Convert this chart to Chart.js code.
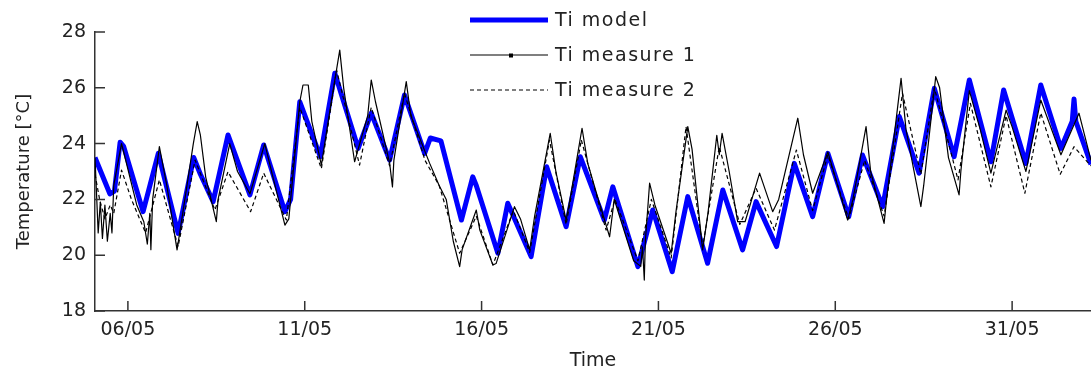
<!DOCTYPE html>
<html>
<head>
<meta charset="utf-8">
<script src="https://cdn.jsdelivr.net/npm/chart.js@4/dist/chart.umd.min.js"></script>
<style>
  body { margin: 0; background: #fff; }
  #wrap { width: 1091px; height: 375px; position: relative; }
</style>
</head>
<body>
<div id="wrap"><canvas id="tempChart"></canvas></div>
<script>
// x values are days counted from 1 May (32 = 01/06)
const modelDays = [5.07, 5.49, 5.62, 5.78, 5.88, 6.43, 6.86, 7.42, 7.86, 8.05, 8.41, 8.83, 9.45, 9.84, 10.44, 10.6,
  10.86, 11.44, 11.85, 12.51, 12.88, 13.4, 13.82, 14.39, 14.55, 14.85, 15.43, 15.75, 15.85, 16.46, 16.74, 17.4,
  17.84, 18.39, 18.79, 19.47, 19.71, 20.42, 20.84, 21.39, 21.83, 22.39, 22.82, 23.38, 23.76, 24.34, 24.84, 25.36,
  25.79, 26.38, 26.77, 27.34, 27.81, 28.37, 28.8, 29.36, 29.79, 30.4, 30.76, 31.39, 31.81, 32.38, 32.7, 32.75,
  32.8, 33.23];
const modelTemps = [23.5, 22.2, 22.3, 24.05, 23.9, 21.56, 23.65, 20.78, 23.5, 22.9, 21.92, 24.31, 22.16, 23.95, 21.56, 22.0,
  25.5, 23.53, 26.52, 23.83, 25.09, 23.41, 25.74, 23.65, 24.2, 24.1, 21.26, 22.81, 22.5, 20.07, 21.86, 19.95,
  23.17, 21.02, 23.53, 21.26, 22.45, 19.59, 21.62, 19.41, 22.1, 19.71, 22.34, 20.19, 21.92, 20.31, 23.29, 21.38,
  23.65, 21.38, 23.59, 21.74, 24.97, 22.94, 25.98, 23.53, 26.28, 23.35, 25.92, 23.29, 26.1, 23.83, 24.8, 25.6,
  24.8, 23.25];

const meas1Days = [5.07, 5.12, 5.16, 5.22, 5.28, 5.35, 5.42, 5.5, 5.55, 5.6, 5.82, 5.9, 6.25, 6.45, 6.55, 6.62, 6.65, 6.7,
  6.89, 7.1, 7.39, 7.55, 7.85, 7.96, 8.05, 8.2, 8.5, 8.55, 8.88, 9.1, 9.45, 9.87, 10.1, 10.44, 10.55, 10.86, 10.95,
  11.1, 11.2, 11.47, 11.75, 11.99, 12.1, 12.41, 12.78, 12.88, 13.0, 13.4, 13.48, 13.52, 13.87, 14.0, 14.53, 14.8,
  15.0, 15.2, 15.38, 15.45, 15.85, 15.95, 16.32, 16.41, 16.93, 17.1, 17.36, 17.5, 17.94, 18.1, 18.39, 18.5, 18.84,
  19.0, 19.3, 19.62, 19.75, 19.85, 20.3, 20.5, 20.55, 20.6, 20.63, 20.75, 20.9, 21.36, 21.5, 21.83, 21.95, 22.25,
  22.4, 22.65, 22.72, 22.8, 23.0, 23.24, 23.45, 23.86, 24.23, 24.4, 24.94, 25.1, 25.36, 25.79, 26.0, 26.35, 26.5,
  26.87, 27.0, 27.38, 27.45, 27.86, 28.0, 28.42, 28.5, 28.84, 28.95, 29.2, 29.5, 29.55, 29.79, 30.1, 30.4, 30.83,
  31.0, 31.39, 31.81, 32.38, 32.89, 33.23];
const meas1Temps = [23.5, 22.0, 20.8, 21.9, 20.6, 21.8, 20.5, 21.5, 20.8, 22.5, 24.0, 23.6, 21.8, 21.2, 20.4, 21.5, 20.2, 22.0,
  23.89, 22.5, 20.19, 21.5, 24.0, 24.79, 24.3, 22.8, 21.2, 22.0, 24.0, 23.0, 22.2, 24.0, 22.8, 21.08, 21.3, 25.5, 26.1,
  26.1, 24.8, 23.23, 25.5, 27.35, 26.0, 23.35, 25.0, 26.28, 25.5, 23.3, 22.45, 23.4, 26.22, 25.0, 23.3, 22.5,
  22.0, 20.5, 19.59, 20.2, 21.62, 20.9, 19.65, 19.7, 21.74, 21.3, 20.19, 21.4, 24.37, 23.0, 21.26, 22.0, 24.55,
  23.3, 22.0, 20.66, 22.0, 21.6, 19.8, 19.6, 20.3, 19.11, 20.5, 22.58, 21.8, 20.07, 21.6, 24.61, 23.8, 20.19,
  21.5, 24.3, 23.6, 24.37, 23.0, 21.2, 21.2, 22.94, 21.56, 22.0, 24.91, 23.6, 22.22, 23.7, 22.8, 21.26, 22.0,
  24.61, 23.0, 21.14, 22.0, 26.34, 24.5, 21.74, 22.5, 26.4, 26.0, 23.5, 22.16, 23.0, 25.9, 24.5, 22.94, 25.2,
  24.6, 23.0, 25.56, 23.6, 25.09, 23.4];

const meas2Days = [5.07, 5.2, 5.35, 5.5, 5.6, 5.82, 6.1, 6.5, 6.89, 7.42, 7.9, 8.46, 8.83, 9.47, 9.84, 10.48, 10.86, 11.47,
  11.9, 12.55, 12.88, 13.4, 13.82, 14.4, 14.8, 15.38, 15.85, 16.32, 16.9, 17.36, 17.92, 18.39, 18.82, 19.52, 19.77,
  20.42, 20.8, 21.36, 21.78, 22.25, 22.72, 23.3, 23.76, 24.28, 24.9, 25.36, 25.79, 26.38, 26.83, 27.38, 27.9, 28.42,
  28.8, 29.47, 29.82, 30.4, 30.83, 31.36, 31.81, 32.36, 32.75, 33.23];
const meas2Temps = [22.9, 22.0, 21.3, 21.8, 21.5, 23.05, 22.0, 20.8, 22.7, 20.31, 23.41, 21.62, 22.99, 21.56, 22.94, 21.26, 25.3, 23.1,
  26.64, 23.23, 25.3, 23.2, 25.8, 23.4, 22.5, 20.07, 21.4, 19.65, 21.6, 20.1, 24.13, 21.1, 24.13, 20.9, 22.0,
  19.8, 22.0, 19.9, 24.61, 20.3, 23.89, 21.1, 22.4, 20.9, 23.77, 21.6, 23.6, 21.3, 23.4, 21.4, 25.8, 22.9,
  26.0, 22.7, 25.44, 22.45, 25.0, 22.22, 25.1, 22.9, 23.89, 23.2];

const xTicks = [6, 11, 16, 21, 26, 31];
const yTicks = [18, 20, 22, 24, 26, 28];
const seriesNames = ['Ti model', 'Ti measure 1', 'Ti measure 2'];

const FONT = 'DejaVu Sans';

function toPoints(days, temps) {
    return days.map((d, i) => ({ x: d, y: temps[i] }));
}

function dayLabel(v) {
    let d = v, m = 5;
    if (d > 31) { d -= 31; m = 6; }
    return String(d).padStart(2, '0') + '/' + String(m).padStart(2, '0');
}

// inward tick marks, like the original figure
const innerTicks = {
    id: 'innerTicks',
    afterDatasetsDraw(chart) {
        const { ctx, chartArea, scales } = chart;
        ctx.save();
        ctx.strokeStyle = '#333';
        ctx.lineWidth = 1.5;
        ctx.beginPath();
        yTicks.forEach(t => {
            const y = scales.y.getPixelForValue(t);
            ctx.moveTo(chartArea.left, y);
            ctx.lineTo(chartArea.left + 10, y);
        });
        xTicks.forEach(t => {
            const x = scales.x.getPixelForValue(t);
            ctx.moveTo(x, chartArea.bottom);
            ctx.lineTo(x, chartArea.bottom - 10);
        });
        ctx.stroke();
        ctx.restore();
    }
};

// legend drawn in the top middle of the plot
const lineLegend = {
    id: 'lineLegend',
    afterDraw(chart) {
        const ctx = chart.ctx;
        const rows = [20, 55, 90];
        const x0 = 470, x1 = 548, tx = 555;
        ctx.save();
        chart.data.datasets.forEach((ds, i) => {
            const y = rows[i];
            ctx.strokeStyle = ds.borderColor;
            ctx.lineWidth = ds.borderWidth;
            ctx.setLineDash(ds.borderDash || []);
            ctx.beginPath();
            ctx.moveTo(x0, y);
            ctx.lineTo(x1, y);
            ctx.stroke();
            if (i === 1) {
                ctx.fillStyle = '#000';
                ctx.fillRect(509, y - 1.5, 4, 4);
            }
            ctx.setLineDash([]);
            ctx.fillStyle = '#222';
            ctx.font = '19px "' + FONT + '"';
            ctx.letterSpacing = '1.5px';
            ctx.textBaseline = 'middle';
            ctx.textAlign = 'left';
            ctx.fillText(ds.label, tx, y + 1);
        });
        ctx.restore();
    }
};

const ctx = document.getElementById('tempChart').getContext('2d');
new Chart(ctx, {
    type: 'line',
    data: {
        datasets: [
            {
                label: seriesNames[0],
                data: toPoints(modelDays, modelTemps),
                borderColor: '#0000ff',
                borderWidth: 5,
                order: 3
            },
            {
                label: seriesNames[1],
                data: toPoints(meas1Days, meas1Temps),
                borderColor: '#000000',
                borderWidth: 1.2,
                order: 2
            },
            {
                label: seriesNames[2],
                data: toPoints(meas2Days, meas2Temps),
                borderColor: '#000000',
                borderWidth: 1.2,
                borderDash: [4, 3],
                order: 1
            }
        ]
    },
    options: {
        responsive: true,
        maintainAspectRatio: false,
        animation: false,
        layout: { padding: { top: 32, right: 0, left: 0, bottom: 0 } },
        elements: {
            point: { radius: 0 },
            line: { tension: 0, borderJoinStyle: 'round' }
        },
        plugins: {
            legend: { display: false },
            tooltip: { enabled: false }
        },
        scales: {
            x: {
                type: 'linear',
                min: 5.07,
                max: 33.23,
                afterBuildTicks: scale => { scale.ticks = xTicks.map(v => ({ value: v })); },
                afterFit: scale => { scale.height = 64; },
                grid: { display: false, drawTicks: false },
                border: { display: true, color: '#333', width: 1.5 },
                ticks: {
                    padding: 8,
                    color: '#222',
                    font: { family: FONT, size: 19 },
                    maxRotation: 0,
                    callback: v => dayLabel(v)
                },
                title: {
                    display: true,
                    text: 'Time',
                    color: '#222',
                    font: { family: FONT, size: 19 },
                    padding: { top: 0, bottom: 3 }
                }
            },
            y: {
                min: 18,
                max: 28,
                afterBuildTicks: scale => { scale.ticks = yTicks.map(v => ({ value: v })); },
                afterFit: scale => { scale.width = 95; },
                grid: { display: false, drawTicks: false },
                border: { display: true, color: '#333', width: 1.5 },
                ticks: {
                    padding: 9,
                    color: '#222',
                    font: { family: FONT, size: 19 }
                },
                title: {
                    display: true,
                    text: 'Temperature [°C]',
                    color: '#222',
                    font: { family: FONT, size: 18 },
                    padding: { top: 14, bottom: 0 }
                }
            }
        }
    },
    plugins: [innerTicks, lineLegend]
});
</script>
</body>
</html>
